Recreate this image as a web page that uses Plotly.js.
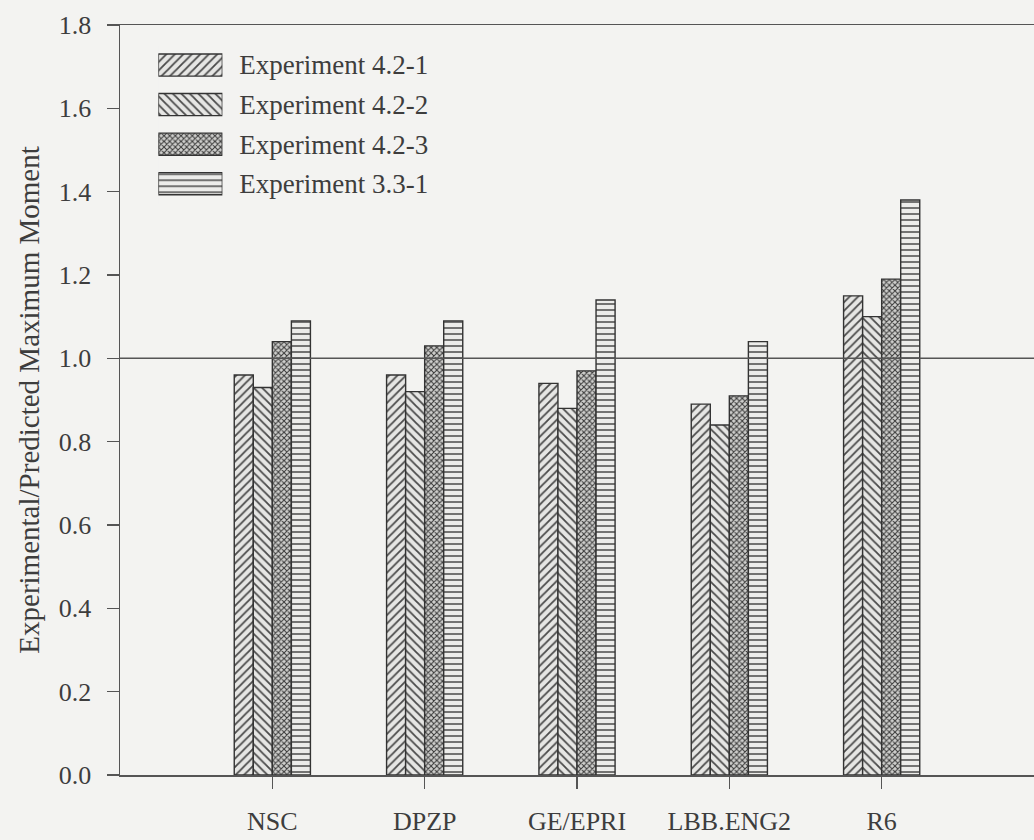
<!DOCTYPE html>
<html>
<head>
<meta charset="utf-8">
<script src="https://cdn.plot.ly/plotly-3.0.1.min.js"></script>
<style>
  html, body { margin: 0; padding: 0; background: #f3f3f1; }
  #chart { width: 1034px; height: 840px; }
</style>
</head>
<body>
<div id="chart"></div>
<script>
// ---- data ----
const categories = ["NSC", "DPZP", "GE/EPRI", "LBB.ENG2", "R6"];
const seriesNames = ["Experiment 4.2-1", "Experiment 4.2-2", "Experiment 4.2-3", "Experiment 3.3-1"];
const exp421 = [0.96, 0.96, 0.94, 0.89, 1.15];
const exp422 = [0.93, 0.92, 0.88, 0.84, 1.10];
const exp423 = [1.04, 1.03, 0.97, 0.91, 1.19];
const exp331 = [1.09, 1.09, 1.14, 1.04, 1.38];
const yTickVals = [0, 0.2, 0.4, 0.6, 0.8, 1.0, 1.2, 1.4, 1.6, 1.8];
const yTitle = "Experimental/Predicted Maximum Moment";
const referenceValue = 1.0;

// ---- styles ----
const seriesValues = [exp421, exp422, exp423, exp331];
const patShapes = ["/", "\\", "x", "-"];
const patSizes = [6, 6, 4, 6];
const patSolid = [0.3, 0.3, 0.45, 0.25];
const patFg = ["#4a4a4a", "#4a4a4a", "#3a3a3a", "#4a4a4a"];
const patBg = ["#e6e6e4", "#e6e6e4", "#cfcfcd", "#ececea"];
const ink = "#3d3d3d";
const font = "Liberation Serif, Times New Roman, serif";

function markerFor(i) {
  return {
    color: patBg[i],
    line: { color: "#333", width: 1.4 },
    pattern: { shape: patShapes[i], size: patSizes[i], solidity: patSolid[i], fgcolor: patFg[i], bgcolor: patBg[i], fillmode: "replace" }
  };
}

const traces = seriesValues.map((vals, i) => ({
  type: "bar",
  name: seriesNames[i],
  x: categories,
  y: vals,
  xaxis: "x", yaxis: "y",
  showlegend: false,
  marker: markerFor(i),
  hoverinfo: "skip"
}));

// legend drawn as a small hidden subplot of swatches (one per series)
seriesNames.forEach((nm, i) => {
  traces.push({
    type: "bar",
    orientation: "h",
    x: [1],
    y: [nm],
    xaxis: "x2", yaxis: "y2",
    showlegend: false,
    offsetgroup: "legend",
    width: 0.56,
    marker: markerFor(i),
    hoverinfo: "skip"
  });
});

const layout = {
  width: 1034, height: 840,
  margin: { l: 120, r: 0, t: 25, b: 65 },
  paper_bgcolor: "#f3f3f1",
  plot_bgcolor: "#f3f3f1",
  font: { family: font, size: 26, color: ink },
  barmode: "group",
  bargap: 0.5,
  bargroupgap: 0,
  showlegend: false,
  xaxis: {
    type: "category",
    range: [-1, 5],
    showline: true, linecolor: "#555", linewidth: 1.5,
    mirror: true,
    showgrid: false, zeroline: false,
    ticks: "outside", ticklen: 12, tickcolor: "#555", tickwidth: 1.5,
    ticklabelstandoff: 10,
    tickfont: { family: font, size: 26, color: ink },
    fixedrange: true
  },
  yaxis: {
    range: [0, 1.8],
    tickvals: yTickVals,
    tickformat: ".1f",
    showline: true, linecolor: "#555", linewidth: 1.5,
    showgrid: false, zeroline: false,
    ticks: "outside", ticklen: 12, tickcolor: "#555", tickwidth: 1.5,
    ticklabelstandoff: 10,
    tickfont: { family: font, size: 26, color: ink },
    title: { text: yTitle, font: { family: font, size: 29, color: ink }, standoff: 10 },
    fixedrange: true
  },
  xaxis2: {
    domain: [0.042, 0.112],
    anchor: "y2",
    range: [0, 1],
    visible: false,
    fixedrange: true
  },
  yaxis2: {
    domain: [0.762, 0.973],
    anchor: "x2",
    type: "category",
    autorange: "reversed",
    side: "right",
    showline: false, showgrid: false, zeroline: false,
    ticks: "",
    ticklabelstandoff: 16,
    tickfont: { family: font, size: 27, color: ink },
    fixedrange: true
  },
  shapes: [{
    type: "line", xref: "paper", yref: "y",
    x0: 0, x1: 1, y0: referenceValue, y1: referenceValue,
    line: { color: "#555", width: 1.5 }
  }]
};

Plotly.newPlot("chart", traces, layout, { displayModeBar: false, staticPlot: true });
</script>
</body>
</html>
